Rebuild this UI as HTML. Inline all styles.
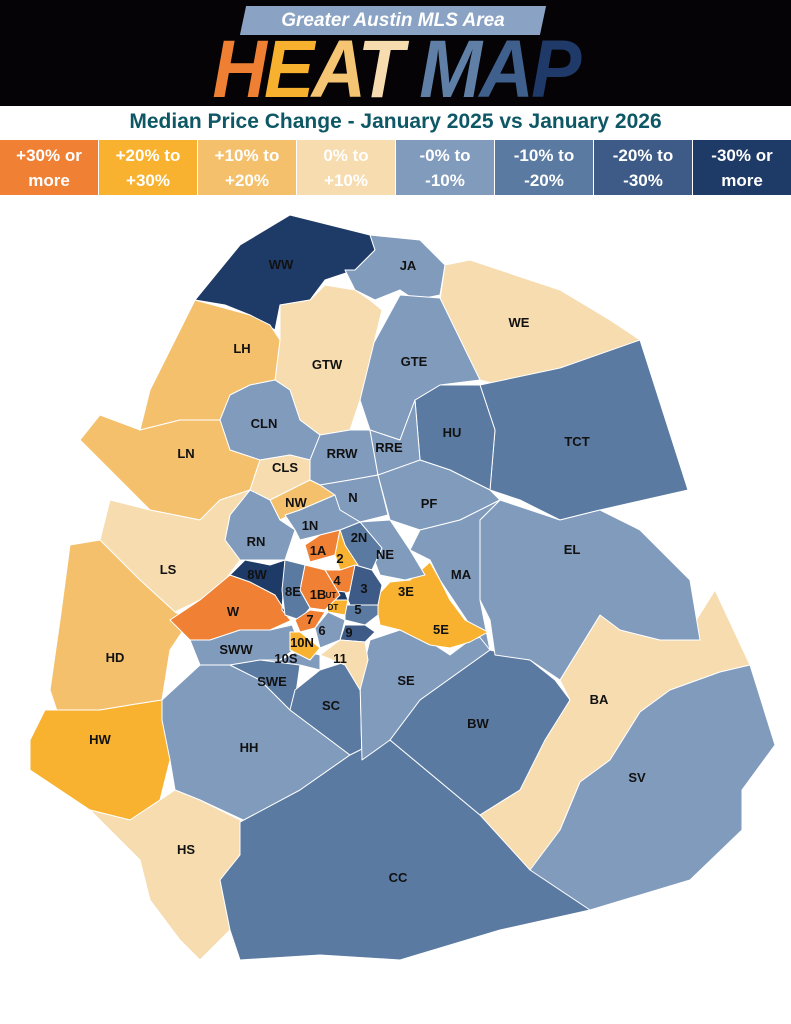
<!DOCTYPE html>
<html><head><meta charset="utf-8"><style>
body{margin:0;width:791px;height:1024px;background:#fff;font-family:"Liberation Sans",sans-serif;position:relative;overflow:hidden}
.top{position:absolute;left:0;top:0;width:791px;height:106px;background:#050305}
.ban{position:absolute;left:243px;top:6px;width:300px;height:29px;background:#8aa3c4;transform:skewX(-12deg)}
.bant{position:absolute;left:243px;top:6px;width:300px;height:29px;line-height:29px;text-align:center;color:#fff;font-weight:bold;font-style:italic;font-size:19px}
.heat{position:absolute;left:0;width:791px;top:33px;text-align:center;font-weight:bold;font-style:italic;font-size:82px;letter-spacing:-3px;line-height:74px;transform:scaleX(0.92)}
.sub{position:absolute;top:110px;width:791px;text-align:center;color:#0e5866;font-weight:bold;font-size:21px}
.leg{position:absolute;top:140px;left:0;width:791px;height:55px;display:flex;gap:1px}
.leg div{flex:1;color:#fff;font-weight:bold;font-size:17px;text-align:center;display:flex;align-items:center;justify-content:center;line-height:25px}
svg text{font-family:"Liberation Sans",sans-serif;font-weight:bold;font-size:13px;fill:#111;text-anchor:middle}
</style></head><body>
<div class="top"></div>
<div class="ban"></div><div class="bant">Greater Austin MLS Area</div>
<div class="heat"><span style="color:#ef7f33">H</span><span style="color:#f8b02f">E</span><span style="color:#f5c574">A</span><span style="color:#f7dcb0">T</span> <span style="color:#5f7fa6">M</span><span style="color:#3f5f8c">A</span><span style="color:#1f3a68">P</span></div>
<div class="sub">Median Price Change - January 2025 vs January 2026</div>
<div class="leg">
<div style="background:#ef8034">+30% or<br>more</div>
<div style="background:#f8b22f">+20% to<br>+30%</div>
<div style="background:#f4c06c">+10% to<br>+20%</div>
<div style="background:#f6dcaf">0% to<br>+10%</div>
<div style="background:#819bbd">-0% to<br>-10%</div>
<div style="background:#5a7aa1">-10% to<br>-20%</div>
<div style="background:#3d5b86">-20% to<br>-30%</div>
<div style="background:#1e3a66">-30% or<br>more</div>
</div>
<svg width="791" height="1024" style="position:absolute;left:0;top:0">
<g stroke="#fff" stroke-width="1" stroke-linejoin="round">
<polygon fill="#1e3a66" points="195,300 240,245 290,215 370,235 375,250 355,270 325,280 310,300 280,305 275,330 250,315 225,305"/>
<polygon fill="#819bbd" points="370,235 420,240 445,265 440,295 415,300 400,290 375,300 355,290 345,270 355,270 375,250"/>
<polygon fill="#f6dcaf" points="445,265 470,260 560,290 610,320 640,340 600,360 560,370 500,385 480,380 440,300"/>
<polygon fill="#5a7aa1" points="480,385 560,368 640,340 688,490 600,510 560,520 520,500 490,490 495,430"/>
<polygon fill="#5a7aa1" points="415,400 440,385 480,385 495,430 490,490 470,480 450,470 420,460"/>
<polygon fill="#819bbd" points="360,400 370,350 400,295 440,298 480,380 440,385 415,400 400,440 370,430"/>
<polygon fill="#f6dcaf" points="280,305 310,300 325,285 355,290 370,300 382,310 360,400 350,430 320,435 300,420 290,390 275,380 280,340"/>
<polygon fill="#f4c06c" points="195,300 250,315 270,325 280,340 275,380 250,385 230,395 220,420 180,420 140,430 150,390 180,330"/>
<polygon fill="#819bbd" points="220,420 230,395 250,385 275,380 290,390 300,420 320,435 310,460 290,455 260,460 230,450"/>
<polygon fill="#f4c06c" points="80,440 100,415 140,430 180,420 220,420 230,450 260,460 250,490 220,500 200,520 150,510 110,470"/>
<polygon fill="#f6dcaf" points="260,460 290,455 310,460 310,480 290,490 270,500 250,490"/>
<polygon fill="#819bbd" points="320,435 350,430 370,430 378,475 350,480 320,485 310,480 310,460"/>
<polygon fill="#819bbd" points="370,430 400,440 415,400 420,460 400,470 378,475"/>
<polygon fill="#819bbd" points="320,485 350,480 378,475 388,515 360,522 340,510"/>
<polygon fill="#819bbd" points="378,475 420,460 450,470 490,490 500,500 460,520 420,530 390,520"/>
<polygon fill="#f4c06c" points="270,500 290,490 310,480 320,485 335,495 300,510 280,520"/>
<polygon fill="#819bbd" points="230,515 250,490 270,500 280,520 295,530 285,560 265,560 240,560 225,540"/>
<polygon fill="#f6dcaf" points="100,540 110,500 150,510 200,520 220,500 250,490 230,515 225,540 240,560 225,580 200,600 175,612 140,580"/>
<polygon fill="#f4c06c" points="70,545 100,540 140,580 175,612 190,620 170,650 162,700 130,705 100,710 60,720 50,690 60,620"/>
<polygon fill="#ef8034" points="170,620 200,600 230,575 250,582 275,595 292,620 270,630 240,630 210,640 190,640"/>
<polygon fill="#1e3a66" points="230,575 245,560 270,565 285,560 282,610 292,622 275,595 250,582"/>
<polygon fill="#819bbd" points="190,640 210,640 240,630 270,630 292,625 300,645 280,660 260,660 230,665 200,665"/>
<polygon fill="#819bbd" points="140,710 162,700 200,665 230,665 260,680 290,710 350,755 300,790 265,830 200,800 175,790 170,760"/>
<polygon fill="#f8b22f" points="30,740 45,710 100,710 130,705 162,700 162,720 170,760 160,800 130,820 90,810 60,790 30,770"/>
<polygon fill="#f6dcaf" points="90,810 130,820 160,800 175,790 200,800 240,820 265,830 240,855 220,880 230,930 200,960 180,940 150,900 140,860"/>
<polygon fill="#5a7aa1" points="230,665 260,660 280,660 300,665 295,700 290,710 260,680"/>
<polygon fill="#819bbd" points="260,660 280,660 300,650 320,655 320,670 300,665"/>
<polygon fill="#5a7aa1" points="290,710 295,690 320,670 345,662 360,680 362,760 350,755"/>
<polygon fill="#5a7aa1" points="240,822 300,790 350,755 380,740 390,740 480,815 560,880 590,910 500,930 400,960 320,955 240,960 230,930 220,880 240,855"/>
<polygon fill="#819bbd" points="360,680 370,640 400,630 430,642 450,655 470,640 485,636 490,650 420,700 390,740 362,760"/>
<polygon fill="#5a7aa1" points="390,740 420,700 490,650 530,660 555,680 570,700 540,760 520,790 480,815"/>
<polygon fill="#f6dcaf" points="480,815 520,790 545,740 570,700 560,680 600,615 620,630 660,640 690,630 715,590 750,665 720,672 670,690 640,712 610,760 580,782 560,830 540,860 530,870"/>
<polygon fill="#819bbd" points="530,870 560,830 580,782 610,760 640,712 670,690 720,672 750,665 775,745 742,790 742,830 690,880 590,910"/>
<polygon fill="#819bbd" points="480,520 500,500 560,520 600,510 640,530 690,580 700,640 660,640 620,630 600,615 560,680 530,660 495,655 490,620 480,600"/>
<polygon fill="#819bbd" points="420,530 460,520 500,500 480,520 480,600 490,650 470,625 460,610 440,580 430,560 410,550"/>
<polygon fill="#f8b22f" points="375,598 390,582 410,580 430,562 440,580 450,600 465,620 488,632 470,642 450,648 430,645 400,630 380,625"/>
<polygon fill="#819bbd" points="360,522 390,520 410,550 425,575 405,580 380,575"/>
<polygon fill="#5a7aa1" points="340,530 360,522 382,548 372,570 355,565 345,545"/>
<polygon fill="#819bbd" points="285,515 300,510 335,495 340,510 360,522 340,530 320,535 300,540 295,530"/>
<polygon fill="#ef8034" points="305,545 320,535 340,530 335,555 310,562"/>
<polygon fill="#f8b22f" points="335,555 340,530 345,545 358,565 340,570"/>
<polygon fill="#ef8034" points="325,570 340,570 355,565 355,590 340,595"/>
<polygon fill="#3d5b86" points="355,565 372,570 382,585 378,605 350,605 348,600"/>
<polygon fill="#5a7aa1" points="345,605 378,605 378,615 365,625 345,620"/>
<polygon fill="#3d5b86" points="345,625 365,625 375,632 365,642 340,640"/>
<polygon fill="#1e3a66" points="330,590 345,592 348,600 330,600"/>
<polygon fill="#f8b22f" points="325,600 348,600 345,615 328,612"/>
<polygon fill="#ef8034" points="305,565 325,570 340,595 325,610 310,608 300,590"/>
<polygon fill="#5a7aa1" points="285,560 305,565 300,590 310,608 300,620 285,615 282,590"/>
<polygon fill="#ef8034" points="295,620 310,610 325,612 315,628 300,632"/>
<polygon fill="#819bbd" points="315,628 328,612 345,620 340,640 320,648"/>
<polygon fill="#f8b22f" points="290,632 300,632 320,648 310,660 290,650"/>
<polygon fill="#f6dcaf" points="320,655 340,640 365,642 368,660 360,690 345,665"/>
</g>
<text x="281" y="269">WW</text><text x="408" y="270">JA</text><text x="519" y="327">WE</text>
<text x="242" y="353">LH</text><text x="327" y="369">GTW</text><text x="414" y="366">GTE</text>
<text x="577" y="446">TCT</text><text x="452" y="437">HU</text><text x="264" y="428">CLN</text>
<text x="186" y="458">LN</text><text x="342" y="458">RRW</text><text x="389" y="452">RRE</text>
<text x="285" y="472">CLS</text><text x="353" y="502">N</text><text x="429" y="508">PF</text>
<text x="296" y="507">NW</text><text x="310" y="530">1N</text><text x="359" y="542">2N</text>
<text x="256" y="546">RN</text><text x="385" y="559">NE</text><text x="318" y="555">1A</text>
<text x="340" y="563">2</text><text x="461" y="579">MA</text><text x="572" y="554">EL</text>
<text x="168" y="574">LS</text><text x="257" y="579">8W</text><text x="337" y="585">4</text>
<text x="364" y="593">3</text><text x="406" y="596">3E</text><text x="293" y="596">8E</text>
<text x="318" y="599">1B</text><text x="233" y="616">W</text><text x="358" y="614">5</text>
<text x="310" y="624">7</text><text x="441" y="634">5E</text><text x="322" y="635">6</text>
<text x="349" y="637">9</text><text x="302" y="647">10N</text><text x="236" y="654">SWW</text>
<text x="115" y="662">HD</text><text x="286" y="663">10S</text><text x="340" y="663">11</text>
<text x="272" y="686">SWE</text><text x="406" y="685">SE</text><text x="599" y="704">BA</text>
<text x="331" y="710">SC</text><text x="478" y="728">BW</text><text x="249" y="752">HH</text>
<text x="100" y="744">HW</text><text x="637" y="782">SV</text><text x="186" y="854">HS</text>
<text x="398" y="882">CC</text>
<text x="331" y="598" style="font-size:8px">UT</text><text x="333" y="610" style="font-size:8px">DT</text>
</svg>
</body></html>
